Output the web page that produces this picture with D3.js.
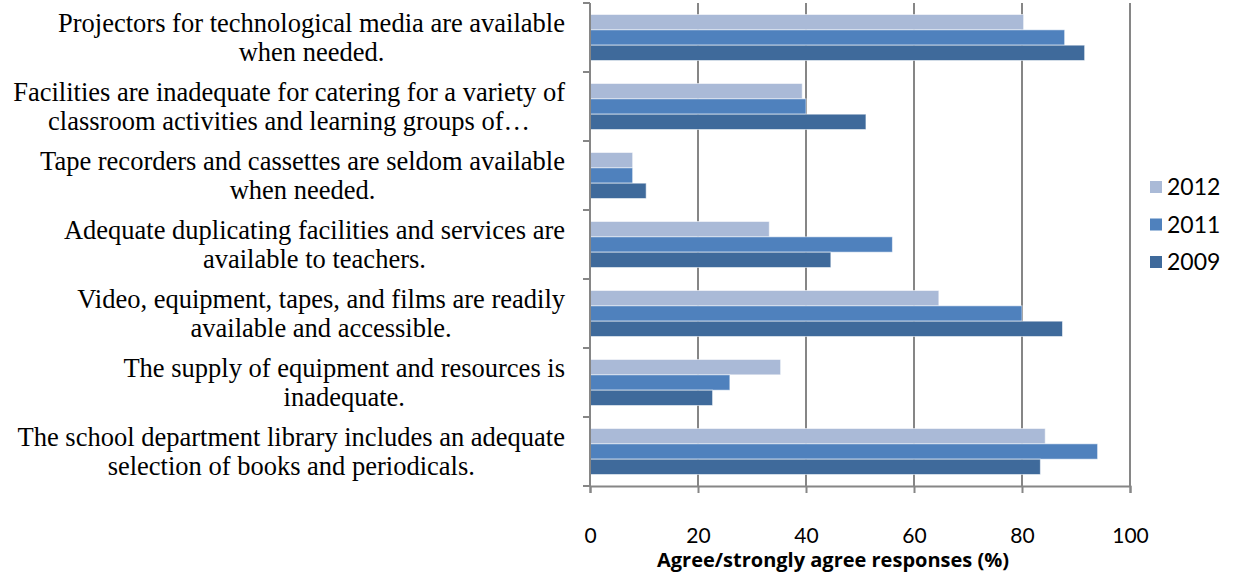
<!DOCTYPE html>
<html>
<head>
<meta charset="utf-8">
<script src="https://cdn.jsdelivr.net/npm/d3@7"></script>
<style>
  body { margin: 0; background: #fff; }
  svg { display: block; }
</style>
</head>
<body>
<svg id="chart" width="1233" height="575"></svg>
<script>
// categories, top to bottom (each one split in its display lines)
const categories = [
    ["Projectors for technological media are available", "when needed."],
    ["Facilities are inadequate for catering for a variety of", "classroom activities and learning groups of…"],
    ["Tape recorders and cassettes are seldom available", "when needed."],
    ["Adequate duplicating facilities and services are", "available to teachers."],
    ["Video, equipment, tapes, and films are readily", "available and accessible."],
    ["The supply of equipment and resources is", "inadequate."],
    ["The school department library includes an adequate", "selection of books and periodicals."]
];

const seriesNames = ["2012", "2011", "2009"];
const values2012 = [80.3, 39.3, 7.9, 33.2, 64.6, 35.3, 84.3];
const values2011 = [87.9, 40.0, 7.9, 56.0, 80.0, 25.9, 94.0];
const values2009 = [91.6, 51.1, 10.4, 44.6, 87.5, 22.7, 83.4];
const xTicks = [0, 20, 40, 60, 80, 100];
const xTitle = "Agree/strongly agree responses (%)";

const colors = { "2012": "#aabad7", "2011": "#4f81bd", "2009": "#3f6a9b" };

const seriesValues = { "2012": values2012, "2011": values2011, "2009": values2009 };
const data = categories.map((lines, i) => ({
    key: i,
    lines: lines,
    values: seriesNames.map(s => ({ series: s, value: seriesValues[s][i] }))
}));

const margin = { top: 3, left: 590, right: 103, bottom: 89 };
const width = 1233 - margin.left - margin.right;
const height = 575 - margin.top - margin.bottom;

const svg = d3.select("#chart");
const g = svg.append("g").attr("transform", `translate(${margin.left},${margin.top})`);

const x = d3.scaleLinear().domain([0, 100]).range([0, width]);
const y = d3.scaleBand().domain(data.map(d => d.key)).range([0, height]).paddingInner(0.333).paddingOuter(0.1665);
const yInner = d3.scaleBand().domain(seriesNames).range([0, y.bandwidth()]);

// vertical gridlines
g.selectAll(".grid")
    .data(xTicks.slice(1))
    .enter().append("line")
    .attr("x1", d => x(d)).attr("x2", d => x(d))
    .attr("y1", 0).attr("y2", height)
    .attr("stroke", "#868686").attr("stroke-width", 2);

// bars
const groups = g.selectAll(".cat")
    .data(data)
    .enter().append("g")
    .attr("transform", d => `translate(0,${y(d.key)})`);

groups.selectAll("rect")
    .data(d => d.values)
    .enter().append("rect")
    .attr("x", x(0))
    .attr("y", d => yInner(d.series))
    .attr("width", d => x(d.value) - x(0))
    .attr("height", yInner.bandwidth())
    .attr("fill", d => colors[d.series])
    .attr("stroke", "rgba(255,255,255,0.55)")
    .attr("stroke-width", 1);

// left axis with ticks between categories
const catTicks = d3.range(categories.length + 1).map(i => i * height / categories.length);
g.append("line")
    .attr("x1", 0).attr("x2", 0).attr("y1", 0).attr("y2", height)
    .attr("stroke", "#868686").attr("stroke-width", 2);
g.selectAll(".ytick")
    .data(catTicks)
    .enter().append("line")
    .attr("x1", -7).attr("x2", 0)
    .attr("y1", d => d).attr("y2", d => d)
    .attr("stroke", "#868686").attr("stroke-width", 2);

// bottom axis
const xAxis = g.append("g")
    .attr("transform", `translate(0,${height})`)
    .call(d3.axisBottom(x).tickValues(xTicks).tickSize(7).tickPadding(35));
xAxis.select(".domain").attr("stroke", "#868686").attr("stroke-width", 2);
xAxis.selectAll(".tick line").attr("stroke", "#868686").attr("stroke-width", 2);
xAxis.selectAll("text")
    .attr("fill", "#000")
    .style("font-family", "Lato, 'Open Sans', sans-serif")
    .style("font-size", "21px");

g.append("text")
    .attr("x", 243)
    .attr("y", height + 81)
    .attr("text-anchor", "middle")
    .style("font-family", "'Open Sans', Lato, sans-serif")
    .style("font-weight", "bold")
    .style("font-size", "20px")
    .text(xTitle);

// category labels: centred lines, block right-aligned to x = 565
const labelRight = 565;
const lineHeight = 29;
const labels = svg.append("g")
    .style("font-family", "'Liberation Serif', 'Times New Roman', serif")
    .style("font-size", "26.5px");

data.forEach(d => {
    const t = labels.append("text").attr("text-anchor", "middle");
    const cy = margin.top + y(d.key) + y.bandwidth() / 2;
    const n = d.lines.length;
    const spans = d.lines.map((line, j) =>
        t.append("tspan")
            .attr("y", cy + (j - (n - 1) / 2) * lineHeight + 9)
            .text(line));
    const maxW = d3.max(spans, s => s.node().getComputedTextLength());
    spans.forEach(s => s.attr("x", labelRight - maxW / 2));
});

// legend
const legend = svg.append("g").attr("transform", "translate(1150,187)");
seriesNames.forEach((s, i) => {
    const row = legend.append("g").attr("transform", `translate(0,${i * 37.5})`);
    row.append("rect")
        .attr("x", 0).attr("y", -6).attr("width", 12).attr("height", 12)
        .attr("fill", colors[s]);
    row.append("text")
        .attr("x", 17).attr("y", 8)
        .style("font-family", "Lato, 'Open Sans', sans-serif")
        .style("font-size", "23px")
        .text(s);
});
</script>
</body>
</html>
